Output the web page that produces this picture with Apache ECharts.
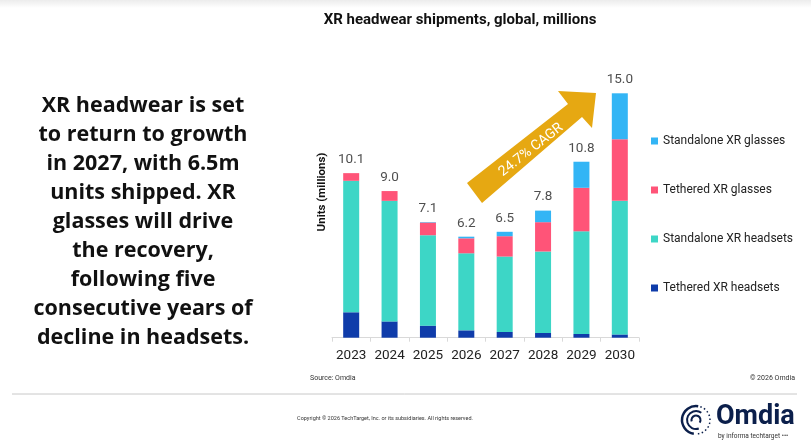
<!DOCTYPE html>
<html>
<head>
<meta charset="utf-8">
<script src="https://cdn.jsdelivr.net/npm/echarts@6/dist/echarts.min.js"></script>
<style>
  html, body { margin: 0; padding: 0; background: #fff; }
  #main { width: 811px; height: 448px; }
</style>
</head>
<body>
<div id="main"></div>
<script>
var years = ['2023', '2024', '2025', '2026', '2027', '2028', '2029', '2030'];
var tetheredHeadsets = [1.56, 1.0, 0.74, 0.45, 0.35, 0.29, 0.23, 0.2];
var standaloneHeadsets = [8.07, 7.4, 5.55, 4.73, 4.63, 5.0, 6.3, 8.2];
var tetheredGlasses = [0.47, 0.6, 0.78, 0.92, 1.25, 1.8, 2.67, 3.78];
var standaloneGlasses = [0, 0, 0.03, 0.1, 0.27, 0.71, 1.6, 2.82];
var totals = [10.1, 9.0, 7.1, 6.2, 6.5, 7.8, 10.8, 15.0];

var chart = echarts.init(document.getElementById('main'));

var labelFont = 'Roboto, "Liberation Sans", sans-serif';
var smallFont = 'Roboto, "Liberation Sans", sans-serif';

function stackBar(name, data, color) {
  return {
    name: name,
    type: 'bar',
    stack: 'units',
    barWidth: 16,
    itemStyle: { color: color },
    data: data
  };
}

var option = {
  backgroundColor: '#fff',
  animation: false,
  title: {
    text: 'XR headwear shipments, global, millions',
    left: 455,
    textAlign: 'center',
    top: 8,
    textStyle: {
      fontFamily: 'Roboto, sans-serif',
      fontWeight: 'bold',
      fontSize: 15,
      color: '#111'
    }
  },
  legend: {
    orient: 'vertical',
    left: 646,
    top: 129,
    itemWidth: 7,
    itemHeight: 7,
    itemGap: 35,
    icon: 'rect',
    data: ['Standalone XR glasses', 'Tethered XR glasses', 'Standalone XR headsets', 'Tethered XR headsets'],
    textStyle: { fontFamily: labelFont, fontSize: 12, color: '#222', lineHeight: 14 }
  },
  grid: {
    left: 332,
    right: 172,
    top: 93.3,
    bottom: 110.3
  },
  xAxis: {
    type: 'category',
    data: years,
    axisLine: { lineStyle: { color: '#d9d9d9', width: 1 } },
    axisTick: { show: true, length: 4, lineStyle: { color: '#d9d9d9' } },
    axisLabel: { interval: 0, margin: 11, fontFamily: labelFont, fontSize: 13.5, color: '#222' }
  },
  yAxis: {
    type: 'value',
    min: 0,
    max: 15,
    show: false
  },
  series: [
    stackBar('Tethered XR headsets', tetheredHeadsets, '#0f3caa'),
    stackBar('Standalone XR headsets', standaloneHeadsets, '#3dd6c6'),
    stackBar('Tethered XR glasses', tetheredGlasses, '#ff5478'),
    stackBar('Standalone XR glasses', standaloneGlasses, '#33b5f5'),
    {
      name: 'Total',
      type: 'scatter',
      data: totals,
      symbolSize: 1,
      itemStyle: { color: 'rgba(0,0,0,0)' },
      silent: true,
      label: {
        show: true,
        position: 'top',
        distance: 6,
        formatter: function (p) { return p.value.toFixed(1); },
        fontFamily: labelFont,
        fontSize: 13.5,
        color: '#222'
      }
    }
  ],
  graphic: [
    // faint band at the top of the slide
    {
      type: 'rect',
      shape: { x: 0, y: 0, width: 811, height: 8 },
      style: {
        fill: new echarts.graphic.LinearGradient(0, 0, 0, 1, [
          { offset: 0, color: '#ececec' },
          { offset: 1, color: '#ffffff' }
        ])
      },
      silent: true
    },
    // headline text on the left
    {
      type: 'text',
      x: 143,
      y: 91,
      style: {
        text: 'XR headwear is set\nto return to growth\nin 2027, with 6.5m\nunits shipped. XR\nglasses will drive\nthe recovery,\nfollowing five\nconsecutive years of\ndecline in headsets.',
        fontFamily: '"Open Sans", Lato, sans-serif',
        fontWeight: 'bold',
        fontSize: 21.5,
        lineHeight: 29,
        align: 'center',
        fill: '#111'
      }
    },
    // y axis title
    {
      type: 'text',
      x: 322.5,
      y: 192,
      rotation: Math.PI / 2,
      style: {
        text: 'Units (millions)',
        fontFamily: labelFont,
        fontWeight: 'bold',
        fontSize: 11.5,
        align: 'center',
        verticalAlign: 'middle',
        fill: '#111'
      }
    },
    // CAGR arrow
    {
      type: 'polygon',
      shape: {
        points: [[467, 183], [568, 104], [558, 91], [596, 93], [592, 128], [582, 117], [482, 203]]
      },
      style: { fill: '#e6a812' },
      silent: true
    },
    {
      type: 'text',
      x: 531,
      y: 150,
      rotation: 38 * Math.PI / 180,
      style: {
        text: '24.7% CAGR',
        fontFamily: labelFont,
        fontSize: 14,
        align: 'center',
        verticalAlign: 'middle',
        fill: '#fff'
      }
    },
    // footer
    {
      type: 'text', x: 310, y: 378,
      style: { text: 'Source: Omdia', fontFamily: smallFont, fontSize: 7, verticalAlign: 'middle', fill: '#333' }
    },
    {
      type: 'text', x: 795, y: 378,
      style: { text: '\u00a9 2026 Omdia', fontFamily: smallFont, fontSize: 7, align: 'right', verticalAlign: 'middle', fill: '#333' }
    },
    {
      type: 'line',
      shape: { x1: 12, y1: 394, x2: 797, y2: 394 },
      style: { stroke: '#c8c8c8', lineWidth: 1 },
      silent: true
    },
    {
      type: 'text', x: 385, y: 419,
      style: { text: 'Copyright \u00a9 2026 TechTarget, Inc. or its subsidiaries. All rights reserved.', fontFamily: smallFont, fontSize: 5.5, align: 'center', verticalAlign: 'middle', fill: '#333' }
    },
    // Omdia logo
    {
      type: 'arc',
      shape: { cx: 696, cy: 420, r: 14, startAngle: Math.PI * 0.55, endAngle: Math.PI * 1.55 },
      style: { stroke: '#0b1f4b', lineWidth: 2.5, fill: null },
      silent: true
    },
    {
      type: 'arc',
      shape: { cx: 696, cy: 420, r: 14, startAngle: Math.PI * 1.6, endAngle: Math.PI * 2.5 },
      style: { stroke: '#0b1f4b', lineWidth: 1.5, lineDash: [1.5, 2.5], fill: null },
      silent: true
    },
    {
      type: 'arc',
      shape: { cx: 696, cy: 420, r: 9, startAngle: Math.PI * 0.4, endAngle: Math.PI * 1.7 },
      style: { stroke: '#0b1f4b', lineWidth: 2, fill: null },
      silent: true
    },
    {
      type: 'arc',
      shape: { cx: 696, cy: 420, r: 4.5, startAngle: Math.PI * 0.9, endAngle: Math.PI * 2.2 },
      style: { stroke: '#0b1f4b', lineWidth: 2, fill: null },
      silent: true
    },
    {
      type: 'text', x: 716, y: 417,
      style: { text: 'Omdia', fontFamily: 'Roboto, "Liberation Sans", sans-serif', fontWeight: 'bold', fontSize: 27, verticalAlign: 'middle', fill: '#0b1f4b' }
    },
    {
      type: 'text', x: 718, y: 436,
      style: { text: 'by informa techtarget \u2022\u2022\u2022', fontFamily: smallFont, fontSize: 6.5, verticalAlign: 'middle', fill: '#333' }
    }
  ]
};

chart.setOption(option);
</script>
</body>
</html>
